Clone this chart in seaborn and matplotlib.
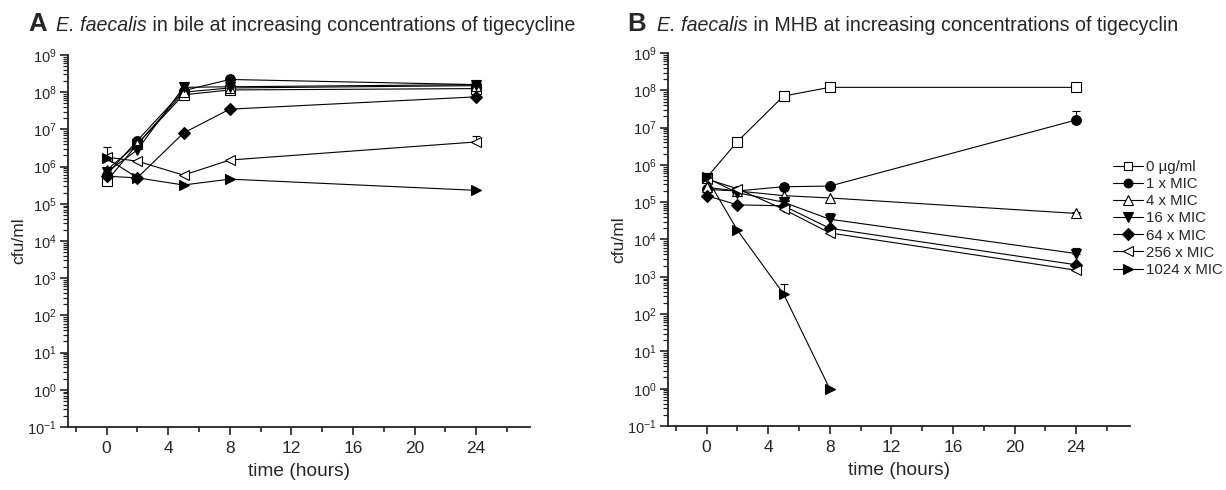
import numpy as np
import pandas as pd
import matplotlib
matplotlib.use("Agg")
import matplotlib.pyplot as plt
import seaborn as sns
from matplotlib.ticker import FixedLocator, LogFormatterSciNotation, NullFormatter

# sampling times (hours)
times = [0, 2, 5, 8, 24]
labels = ["0 µg/ml", "1 x MIC", "4 x MIC", "16 x MIC", "64 x MIC", "256 x MIC", "1024 x MIC"]

# A: E. faecalis in bile (cfu/ml)
bile = [
    [4.0e5, 4.0e6, 8.5e7, 1.15e8, 1.25e8],
    [6.0e5, 5.0e6, 1.1e8, 2.2e8, 1.6e8],
    [8.0e5, 4.0e6, 1.0e8, 1.3e8, 1.5e8],
    [7.0e5, 2.8e6, 1.35e8, 1.4e8, 1.6e8],
    [5.5e5, 5.0e5, 8.0e6, 3.5e7, 7.5e7],
    [1.8e6, 1.4e6, 5.9e5, 1.5e6, 4.6e6],
    [1.7e6, 5.0e5, 3.2e5, 4.6e5, 2.3e5],
]
# upper ends of error bars (nan = none visible)
bile_err = [
    [np.nan, np.nan, np.nan, np.nan, np.nan],
    [np.nan, 6.0e6, np.nan, np.nan, np.nan],
    [np.nan, np.nan, np.nan, np.nan, np.nan],
    [np.nan, np.nan, np.nan, np.nan, np.nan],
    [np.nan, np.nan, np.nan, np.nan, np.nan],
    [3.3e6, np.nan, np.nan, np.nan, 6.5e6],
    [np.nan, np.nan, np.nan, np.nan, np.nan],
]

# B: E. faecalis in MHB (cfu/ml)
mhb = [
    [4.5e5, 4.2e6, 7.0e7, 1.2e8, 1.2e8],
    [2.2e5, 2.0e5, 2.6e5, 2.7e5, 1.6e7],
    [2.5e5, 2.0e5, 1.5e5, 1.3e5, 5.0e4],
    [4.5e5, 1.8e5, 1.0e5, 3.5e4, 4.2e3],
    [1.5e5, 8.5e4, 8.0e4, 2.0e4, 2.1e3],
    [4.2e5, 2.3e5, 6.5e4, 1.5e4, 1.5e3],
    [4.6e5, 1.8e4, 3.5e2, 1.0e0, np.nan],
]
mhb_err = [
    [np.nan, 4.8e6, np.nan, 1.35e8, np.nan],
    [np.nan, np.nan, np.nan, np.nan, 2.8e7],
    [np.nan, np.nan, np.nan, np.nan, 5.6e4],
    [np.nan, np.nan, np.nan, 5.0e4, 6.0e3],
    [np.nan, np.nan, np.nan, np.nan, np.nan],
    [np.nan, np.nan, np.nan, np.nan, np.nan],
    [np.nan, np.nan, 6.6e2, np.nan, np.nan],
]

markers = ["s", "o", "^", "v", "D", "<", ">"]
filled = [False, True, False, True, True, False, True]
msizes = [6.5, 7, 7.5, 7.5, 6.5, 7.5, 7.5]

sns.set_style("ticks")
plt.rcParams["font.family"] = ["Liberation Sans", "DejaVu Sans"]
plt.rcParams["mathtext.default"] = "regular"

fig = plt.figure(figsize=(12.26, 4.9), dpi=100)
W, H = 1226, 490
axA = fig.add_axes([68 / W, 1 - 427 / H, 462 / W, 372 / H])
axB = fig.add_axes([668 / W, 1 - 426 / H, 462 / W, 373 / H])


def draw_panel(ax, values, errs):
    handles = []
    for i, lab in enumerate(labels):
        df = pd.DataFrame({"time": times, "cfu": values[i]}).dropna()
        sns.lineplot(data=df, x="time", y="cfu", ax=ax, color="black", lw=0.8,
                     marker=markers[i], ms=msizes[i], mec="black", mew=0.8,
                     mfc="black" if filled[i] else "white", errorbar=None, zorder=3)
        handles.append(ax.lines[-1])
        e = np.array(errs[i], dtype=float)
        v = np.array(values[i], dtype=float)
        ok = ~np.isnan(e)
        if ok.any():
            t = np.array(times)[ok]
            ax.errorbar(t, v[ok], yerr=[np.zeros(ok.sum()), e[ok] - v[ok]], fmt="none",
                        ecolor="black", elinewidth=0.8, capsize=3, capthick=0.8, zorder=2)
    ax.set_yscale("log")
    ax.set_ylim(0.1, 1e9)
    ax.set_xlim(-2.5, 27.5)
    ax.set_xticks([0, 4, 8, 12, 16, 20, 24])
    ax.xaxis.set_minor_locator(FixedLocator([-2, 2, 6, 10, 14, 18, 22, 26]))
    ax.yaxis.set_major_locator(FixedLocator([10.0 ** e for e in range(-1, 10)]))
    ax.yaxis.set_major_formatter(LogFormatterSciNotation())
    ax.yaxis.set_minor_locator(FixedLocator([k * 10.0 ** e for e in range(-1, 9) for k in range(2, 10)]))
    ax.yaxis.set_minor_formatter(NullFormatter())
    ax.tick_params(axis="x", which="major", length=6, width=1.2, labelsize=12.5, pad=4, color="#222222")
    ax.tick_params(axis="x", which="minor", length=3.5, width=1.2, color="#222222")
    ax.tick_params(axis="y", which="major", length=6, width=1.2, labelsize=10.5, pad=2, color="#222222")
    ax.tick_params(axis="y", which="minor", length=3.5, width=0.9, color="#222222")
    for s in ["left", "bottom"]:
        ax.spines[s].set_linewidth(1.3)
        ax.spines[s].set_color("#222222")
    sns.despine(ax=ax)
    ax.set_xlabel("time (hours)", fontsize=13.8, labelpad=5)
    ax.set_ylabel("cfu/ml", fontsize=12.5, labelpad=1)
    return handles


draw_panel(axA, bile, bile_err)
hB = draw_panel(axB, mhb, mhb_err)

fig.legend(hB, labels, loc="upper left", bbox_to_anchor=(1113 / W, 1 - 160 / H),
           frameon=False, fontsize=10.8, handlelength=2.0, handletextpad=0.2,
           labelspacing=0.21, borderpad=0, borderaxespad=0, markerscale=0.9)


def panel_title(x_letter, x_text, letter, italic, rest):
    r = fig.canvas.get_renderer()
    yb = 1 - 31 / H
    fig.text(x_letter / W, yb, letter, fontsize=18.5, fontweight="bold", va="baseline")
    t1 = fig.text(x_text / W, yb, italic, fontsize=14.1, style="italic", va="baseline")
    bb = t1.get_window_extent(renderer=r)
    fig.text(bb.x1 / W, yb, " " + rest, fontsize=14.1, va="baseline")


panel_title(28, 56, "A", "E. faecalis", "in bile at increasing concentrations of tigecycline")
panel_title(627, 657, "B", "E. faecalis", "in MHB at increasing concentrations of tigecyclin")

fig.savefig("out.png", dpi=100)
